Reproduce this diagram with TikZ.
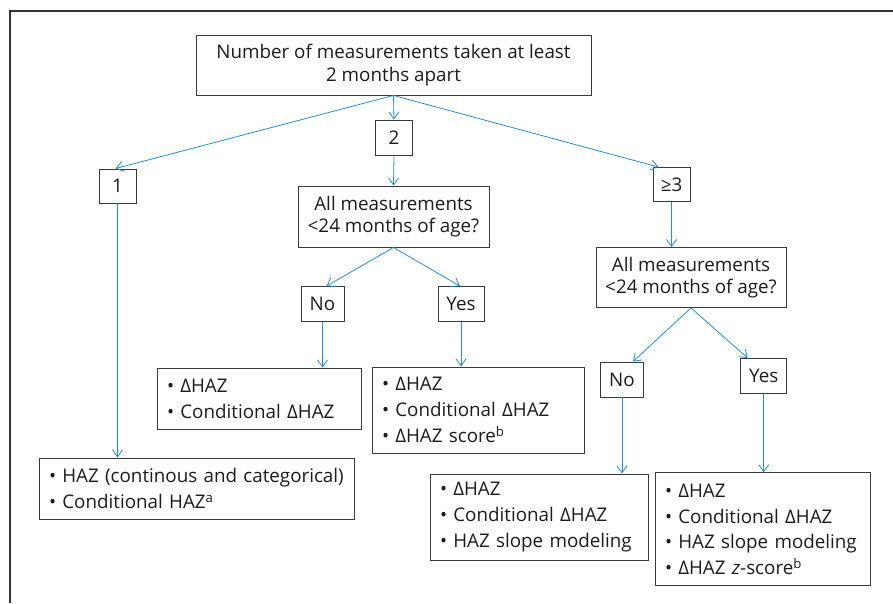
\documentclass[tikz,border=0pt]{standalone}
\usepackage{fontspec}
\setmainfont{Open Sans}
\usetikzlibrary{arrows.meta,calc}
\definecolor{txt}{HTML}{1E1B1C}
\definecolor{edge}{HTML}{3A3A3A}
\definecolor{arr}{HTML}{2A8BCB}
\tikzset{
  box/.style={draw=edge, line width=0.9pt, text=txt, inner sep=0pt, align=center,
    font=\fontsize{18.8}{22.5}\selectfont},
  lbox/.style={draw=edge, line width=0.9pt, text=txt, inner xsep=10pt, inner ysep=0pt, align=left,
    font=\fontsize{18.8}{25.7}\selectfont},
  conn/.style={draw=arr, line width=0.8pt, -{Straight Barb[length=7pt,width=10pt]}},
}
\begin{document}
\begin{tikzpicture}[x=1pt,y=-1pt]
\useasboundingbox (0,0) rectangle (893,603);
\draw[color=edge!90!black, line width=1.6pt] (10,603) -- (10,11) -- (893,11);

\node[box, minimum width=395pt, minimum height=60pt] (top) at (393.5,65)
  {Number of measurements taken at least\\2 months apart};
\node[box, minimum width=37pt, minimum height=34pt] (n1) at (117.5,186) {1};
\node[box, minimum width=37pt, minimum height=35pt] (n2) at (394,137.5) {2};
\node[box, minimum width=37pt, minimum height=34pt] (n3) at (671.5,184.5) {≥3};
\node[box, minimum width=191pt, minimum height=61pt] (q1) at (393.5,216.5)
  {All measurements\\<24 months of age?};
\node[box, minimum width=190pt, minimum height=60pt] (q2) at (691,277.5)
  {All measurements\\<24 months of age?};
\node[box, minimum width=43pt, minimum height=35pt] (no1) at (322.5,304) {No};
\node[box, minimum width=46pt, minimum height=35pt] (yes1) at (461,304) {Yes};
\node[box, minimum width=43pt, minimum height=35pt] (no2) at (622,379.5) {No};
\node[box, minimum width=46pt, minimum height=35pt] (yes2) at (763.7,376) {Yes};

\node[lbox, text width=295pt, minimum height=61pt] (b1) at (196.5,488.5)
  {• HAZ (continous and categorical)\\• Conditional HAZ\textsuperscript{a}};
\node[lbox, text width=184pt, minimum height=61pt] (b2) at (259,398.5)
  {• ΔHAZ\\• Conditional ΔHAZ};
\node[lbox, text width=192pt, minimum height=86pt] (b3) at (478,410)
  {• ΔHAZ\\• Conditional ΔHAZ\\• ΔHAZ score\textsuperscript{b}};
\node[lbox, text width=198pt, minimum height=86pt] (b4) at (539,517)
  {• ΔHAZ\\• Conditional ΔHAZ\\• HAZ slope modeling};
\node[lbox, text width=195pt, minimum height=113pt] (b5) at (762.5,529.3)
  {• ΔHAZ\\• Conditional ΔHAZ\\• HAZ slope modeling\\• ΔHAZ \textit{z}-score\textsuperscript{b}};

\draw[conn] (top.south) -- ([xshift=-2pt]n1.north);
\draw[conn] (top.south) -- (n2.north);
\draw[conn] (top.south) -- ([xshift=-13pt]n3.north);
\draw[conn] (n1.south) -- (n1.south |- b1.north);
\draw[conn] (n2.south) -- (q1.north);
\draw[conn] (q1.south) -- ([xshift=4pt]no1.north);
\draw[conn] (q1.south) -- ([xshift=-1pt]yes1.north);
\draw[conn] (no1.south) -- (no1.south |- b2.north);
\draw[conn] (yes1.south) -- (yes1.south |- b3.north);
\draw[conn] (n3.south) -- (n3.south |- q2.north);
\draw[conn] (q2.south) -- ([xshift=11pt]no2.north);
\draw[conn] (q2.south) -- ([xshift=-16pt]yes2.north);
\draw[conn] (no2.south) -- (no2.south |- b4.north);
\draw[conn] (yes2.south) -- (yes2.south |- b5.north);
\end{tikzpicture}
\end{document}
